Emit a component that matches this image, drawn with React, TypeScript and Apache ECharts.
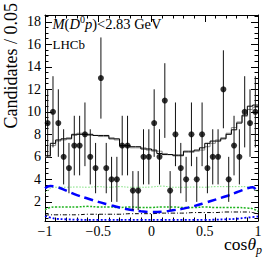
import React, { useEffect, useRef } from 'react';
import * as echarts from 'echarts';

const FONT = '"Liberation Serif", "Times New Roman", serif';

const X_MIN = -1;
const X_MAX = 1;
const BIN_WIDTH = 0.05;
const X_INTERVAL = 0.5;
const Y_MIN = 0.3;
const Y_MAX = 18.6;
const yMajorTicks = [2, 4, 6, 8, 10, 12, 14, 16, 18];
const yMinorTicks = [0.5, 1, 1.5, 2.5, 3, 3.5, 4.5, 5, 5.5, 6.5, 7, 7.5, 8.5, 9, 9.5, 10.5, 11, 11.5, 12.5, 13, 13.5, 14.5, 15, 15.5, 16.5, 17, 17.5, 18.5];

// data counts per bin (40 bins of 0.05 from -1 to 1)
const dataCounts = [9, 10, 9, 6, 5, 7, 7, 8, 6, 5, 13, 5, 4, 4, 7, 7, 3, 3, 6, 6, 9, 6, 11, 3, 8, 5, 4, 8, 4, 8, 5, 6, 6, 12, 4, 7, 6, 10, 9, 10];

// total fit histograms
const totalFit = [6.1, 7.2, 7.5, 7.6, 7.6, 8.0, 8.0, 8.0, 8.0, 7.9, 7.9, 7.9, 7.6, 7.6, 7.0, 7.0, 6.9, 6.9, 6.7, 6.7, 6.6, 6.3, 6.2, 6.2, 6.1, 6.1, 6.5, 6.5, 6.6, 6.8, 7.2, 7.4, 7.4, 7.6, 8.0, 8.4, 9.0, 9.7, 10.5, 10.6];
const totalFitAlt = [6.0, 7.0, 7.4, 7.5, 7.7, 7.9, 8.1, 8.0, 7.9, 7.9, 7.8, 7.8, 7.7, 7.5, 6.9, 6.9, 6.8, 6.8, 6.8, 6.6, 6.5, 6.5, 6.3, 6.2, 6.2, 6.2, 6.4, 6.4, 6.5, 6.6, 6.9, 7.2, 7.5, 7.7, 8.1, 8.6, 9.1, 9.6, 10.2, 10.4];

// component curves
const curveX = [-1, -0.95, -0.9, -0.8, -0.7, -0.6, -0.5, -0.4, -0.3, -0.2, -0.1, 0, 0.1, 0.2, 0.3, 0.4, 0.5, 0.6, 0.7, 0.8, 0.9, 0.95, 1];
const blueDashed = [3.2, 3.4, 3.35, 3.0, 2.6, 2.3, 2.0, 1.75, 1.5, 1.3, 1.17, 1.1, 1.12, 1.25, 1.4, 1.62, 1.9, 2.2, 2.5, 2.85, 3.2, 3.3, 2.8];
const greenUpper = [2.8, 3.2, 3.3, 3.3, 3.32, 3.3, 3.35, 3.3, 3.35, 3.3, 3.3, 3.32, 3.4, 3.3, 3.3, 3.32, 3.3, 3.35, 3.35, 3.35, 3.35, 3.2, 2.85];
const greenLower = [1.3, 1.5, 1.55, 1.55, 1.55, 1.6, 1.55, 1.55, 1.5, 1.55, 1.5, 1.5, 1.55, 1.55, 1.5, 1.5, 1.55, 1.5, 1.5, 1.5, 1.45, 1.4, 1.15];
const blackDashDot = [0.8, 0.85, 0.85, 0.85, 0.85, 0.9, 0.9, 0.9, 0.9, 0.95, 0.95, 0.95, 1.0, 1.0, 1.0, 1.05, 1.05, 1.05, 1.1, 1.1, 1.1, 1.05, 0.9];
const blueDotted = [0.75, 0.6, 0.5, 0.45, 0.42, 0.4, 0.4, 0.4, 0.4, 0.4, 0.4, 0.4, 0.4, 0.4, 0.4, 0.4, 0.4, 0.42, 0.45, 0.5, 0.6, 0.65, 0.7];

type Piece = { t: string; size: number; italic?: boolean; dy?: number };

export default function App() {
  const ref = useRef<HTMLDivElement>(null);

  useEffect(() => {
    const el = ref.current;
    if (!el) return;
    const chart = echarts.init(el, null, { renderer: 'svg' });

    const canvas = document.createElement('canvas');
    const ctx = canvas.getContext('2d') as CanvasRenderingContext2D;
    const measure = (t: string, size: number, italic?: boolean) => {
      ctx.font = `${italic ? 'italic ' : ''}${size}px ${FONT}`;
      return ctx.measureText(t).width;
    };
    const layout = (pieces: Piece[], x0: number, baseline: number, alignRight = false) => {
      const total = pieces.reduce((s, p) => s + measure(p.t, p.size, p.italic), 0);
      let x = alignRight ? x0 - total : x0;
      const out: any[] = [];
      for (const p of pieces) {
        out.push({
          type: 'text',
          x,
          y: baseline + (p.dy || 0) - 0.34 * p.size,
          silent: true,
          style: {
            text: p.t,
            fill: '#000',
            fontSize: p.size,
            fontFamily: FONT,
            fontStyle: p.italic ? 'italic' : 'normal',
            align: 'left',
            verticalAlign: 'middle',
            textAlign: 'left',
            textVerticalAlign: 'middle',
          },
        });
        x += measure(p.t, p.size, p.italic);
      }
      return out;
    };

    const labelText = layout(
      [
        { t: 'M', size: 14.5, italic: true },
        { t: '(', size: 14.5 },
        { t: 'D', size: 14.5, italic: true },
        { t: '0', size: 10, dy: -6 },
        { t: 'p', size: 14.5, italic: true },
        { t: ')', size: 14.5 },
        { t: '<2.83 GeV', size: 14.5 },
      ],
      52.5,
      29
    );
    const lhcbText = layout([{ t: 'LHCb', size: 13 }], 52.5, 49);
    const xTitle = layout(
      [
        { t: 'cos', size: 17.5 },
        { t: 'θ', size: 17.5, italic: true },
        { t: 'p', size: 12, italic: true, dy: 4 },
      ],
      262,
      250,
      true
    );

    const points = dataCounts.map((v, i) => [X_MIN + (i + 0.5) * BIN_WIDTH, v]);
    const stepData = (h: number[]) => [
      ...h.map((v, i) => [X_MIN + i * BIN_WIDTH, v]),
      [X_MAX, h[h.length - 1]],
    ];
    const curve = (ys: number[]) => curveX.map((x, i) => [x, ys[i]]);

    const labelStyle = { fontFamily: FONT, fontSize: 14, color: '#000' };
    const xAxisBase = {
      type: 'value',
      min: X_MIN,
      max: X_MAX,
      interval: X_INTERVAL,
      axisLine: { show: true, onZero: false, lineStyle: { color: '#000', width: 1 } },
      axisTick: { show: true, inside: true, length: 7, lineStyle: { color: '#000', width: 1 } },
      minorTick: { show: true, splitNumber: 5, length: 3.5, lineStyle: { color: '#000', width: 1 } },
      splitLine: { show: false },
    };
    const yAxisBase = {
      type: 'value',
      min: Y_MIN,
      max: Y_MAX,
      axisLine: { show: true, onZero: false, lineStyle: { color: '#000', width: 1 } },
      splitLine: { show: false },
    };
    const hiddenLine = { show: false, onZero: false };

    chart.setOption({
      animation: false,
      backgroundColor: '#fff',
      grid: { left: 45, right: 16, top: 15, bottom: 39, containLabel: false },
      xAxis: [
        {
          ...xAxisBase,
          position: 'bottom',
          axisLabel: {
            ...labelStyle,
            margin: 3,
            formatter: (v: number) => (v < 0 ? '−' + Math.abs(v) : String(v)),
          },
        },
        { ...xAxisBase, position: 'top', axisLabel: { show: false } },
      ],
      yAxis: [
        {
          ...yAxisBase,
          position: 'left',
          axisTick: { show: true, inside: true, length: 7, customValues: yMajorTicks, lineStyle: { color: '#000' } },
          axisLabel: { ...labelStyle, margin: 4, customValues: yMajorTicks },
        },
        {
          ...yAxisBase,
          position: 'left',
          axisLine: hiddenLine,
          axisTick: { show: true, inside: true, length: 3.5, customValues: yMinorTicks, lineStyle: { color: '#000' } },
          axisLabel: { show: false },
        },
        {
          ...yAxisBase,
          position: 'right',
          axisTick: { show: true, inside: true, length: 7, customValues: yMajorTicks, lineStyle: { color: '#000' } },
          axisLabel: { show: false },
        },
        {
          ...yAxisBase,
          position: 'right',
          axisLine: hiddenLine,
          axisTick: { show: true, inside: true, length: 3.5, customValues: yMinorTicks, lineStyle: { color: '#000' } },
          axisLabel: { show: false },
        },
      ],
      series: [
        {
          type: 'line',
          data: curve(blueDotted),
          smooth: 0.4,
          symbol: 'none',
          lineStyle: { color: '#0000ff', width: 1.8, type: [2, 2] },
          z: 2,
        },
        {
          type: 'line',
          data: curve(blackDashDot),
          smooth: 0.4,
          symbol: 'none',
          lineStyle: { color: '#000', width: 1, type: [4, 2, 1, 2] },
          z: 2,
        },
        {
          type: 'line',
          data: curve(greenLower),
          smooth: 0.4,
          symbol: 'none',
          lineStyle: { color: '#1db31d', width: 1.5, type: [2, 1.5] },
          z: 2,
        },
        {
          type: 'line',
          data: curve(greenUpper),
          smooth: 0.4,
          symbol: 'none',
          lineStyle: { color: '#7ce07c', width: 1, type: [1.5, 1.5] },
          z: 2,
        },
        {
          type: 'line',
          data: curve(blueDashed),
          smooth: 0.4,
          symbol: 'none',
          lineStyle: { color: '#0000ff', width: 2.5, type: [9, 5] },
          z: 3,
        },
        {
          type: 'line',
          data: stepData(totalFitAlt),
          step: 'end',
          symbol: 'none',
          lineStyle: { color: '#8a8a8a', width: 1 },
          z: 3,
        },
        {
          type: 'line',
          data: stepData(totalFit),
          step: 'end',
          symbol: 'none',
          lineStyle: { color: '#000', width: 1 },
          z: 4,
        },
        {
          type: 'custom',
          data: points,
          clip: true,
          z: 5,
          renderItem: (_params: any, api: any) => {
            const x = api.value(0);
            const y = api.value(1);
            const e = Math.sqrt(y);
            const p1 = api.coord([x, y - e]);
            const p2 = api.coord([x, y + e]);
            return {
              type: 'line',
              shape: { x1: p1[0], y1: p1[1], x2: p2[0], y2: p2[1] },
              style: { stroke: '#111', lineWidth: 1 },
            };
          },
        },
        {
          type: 'scatter',
          data: points,
          symbol: 'circle',
          symbolSize: 6,
          itemStyle: { color: '#000' },
          z: 6,
        },
      ],
      graphic: [
        {
          type: 'text',
          x: 11,
          y: 3,
          rotation: Math.PI / 2,
          silent: true,
          style: {
            text: 'Candidates / 0.05',
            fill: '#000',
            fontSize: 18,
            fontFamily: FONT,
            align: 'right',
            verticalAlign: 'middle',
            textAlign: 'right',
            textVerticalAlign: 'middle',
          },
        },
        ...labelText,
        ...lhcbText,
        ...xTitle,
      ],
    });

    return () => {
      chart.dispose();
    };
  }, []);

  return (
    <div
      ref={ref}
      style={{ position: 'absolute', left: 0, top: 0, width: 274, height: 260, background: '#fff' }}
    />
  );
}
